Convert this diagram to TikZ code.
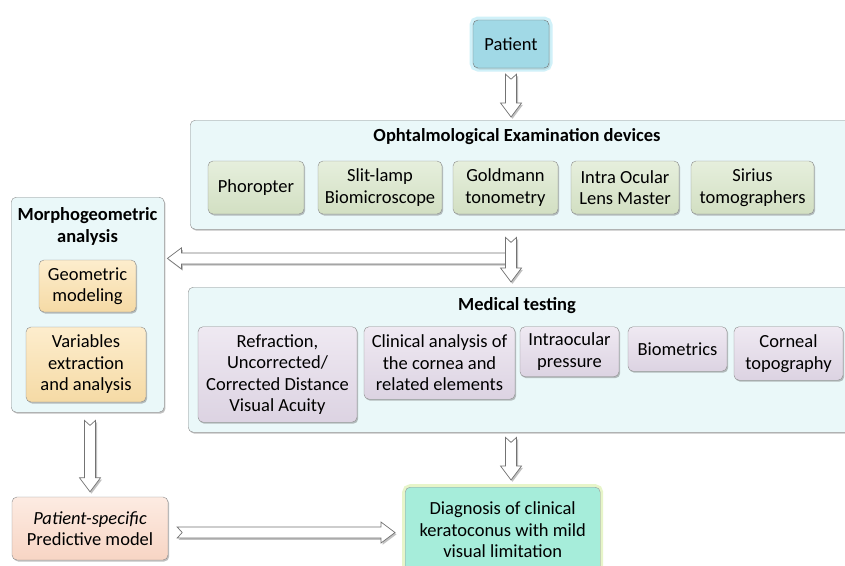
\documentclass[tikz,border=0pt]{standalone}
\usepackage{fontspec}
\setmainfont{Carlito}
\usepackage{tikz}
\usetikzlibrary{calc}
\usetikzlibrary{shadows}
\usetikzlibrary{positioning}
\definecolor{panelfill}{RGB}{234, 248, 249}
\definecolor{panelline}{RGB}{140, 140, 140}
\definecolor{patientblue}{RGB}{161, 217, 230}
\definecolor{patientglow}{RGB}{178, 232, 245}
\definecolor{devtop}{RGB}{230, 239, 221}
\definecolor{devbottom}{RGB}{210, 223, 194}
\definecolor{testtop}{RGB}{239, 233, 242}
\definecolor{testbottom}{RGB}{220, 211, 226}
\definecolor{morphtop}{RGB}{253, 237, 205}
\definecolor{morphbottom}{RGB}{245, 218, 165}
\definecolor{predtop}{RGB}{253, 235, 226}
\definecolor{predbottom}{RGB}{247, 213, 196}
\definecolor{diagfill}{RGB}{166, 237, 218}
\definecolor{diagglow}{RGB}{226, 243, 188}
\definecolor{arrowline}{RGB}{115, 115, 115}

\newcommand{\fatarrow}[2]{%
  \path[hollowarrow] ($(#1)!5.5pt!90:(#2)$) -- ($(#2)!14pt!(#1)!5.5pt!90:(#2)$)
    -- ($(#2)!14pt!(#1)!10.5pt!90:(#2)$) -- (#2) -- ($(#2)!14pt!(#1)!10.5pt!-90:(#2)$)
    -- ($(#2)!14pt!(#1)!5.5pt!-90:(#2)$) -- ($(#1)!5.5pt!-90:(#2)$) -- ($(#1)!5pt!(#2)$) -- cycle;}

\tikzset{
  every node/.style = {font=\fontsize{18.5}{21.5}\selectfont, align=center, inner sep=2pt},
  boxshadow/.style  = {drop shadow={shadow xshift=1.2pt, shadow yshift=-1.5pt, opacity=.35, fill=black!70}},
  panel/.style      = {draw=panelline, fill=panelfill, rounded corners=5pt, boxshadow},
  paneltitle/.style = {font=\fontsize{18.5}{21.5}\selectfont\bfseries},
  devbox/.style     = {draw=black!45, top color=devtop, bottom color=devbottom, rounded corners=5pt, boxshadow},
  testbox/.style    = {draw=black!45, top color=testtop, bottom color=testbottom, rounded corners=5pt, boxshadow, anchor=north},
  morphbox/.style   = {draw=black!45, top color=morphtop, bottom color=morphbottom, rounded corners=5pt, boxshadow},
  hollowarrow/.style= {fill=white, draw=arrowline, line width=0.7pt, line join=miter,
                       drop shadow={shadow xshift=1.5pt, shadow yshift=-1.8pt, opacity=.4, fill=black!60}}
}

\begin{document}
\begin{tikzpicture}[x=1pt, y=-1pt]
  \useasboundingbox[fill=white] (0,0) rectangle (845,565);

  \node[draw=black!55, fill=patientblue, rounded corners=5pt, boxshadow,
        preaction={draw=patientglow, line width=7pt, opacity=.6},
        minimum width=76pt, minimum height=48pt]                          (patient)    at (511,44)   {Patient};

  \node[panel, minimum width=660pt, minimum height=109pt, anchor=north west] (ophth)   at (190,120)  {};
  \node[paneltitle]                                                       (ophtitle)   at (517,137)  {Ophtalmological Examination devices};
  \node[devbox, minimum width=96pt,  minimum height=53pt]                 (phoropter)  at (256,187.5)  {Phoropter};
  \node[devbox, minimum width=124pt, minimum height=53pt]                 (slitlamp)   at (380,187.5)  {Slit-lamp\\Biomicroscope};
  \node[devbox, minimum width=105pt, minimum height=53pt]                 (goldmann)   at (505.5,187.5){Goldmann\\tonometry};
  \node[devbox, minimum width=108pt, minimum height=53pt]                 (iolmaster)  at (625,187.5)  {Intra Ocular\\Lens Master};
  \node[devbox, minimum width=123pt, minimum height=53pt]                 (sirius)     at (752.5,187.5){Sirius\\tomographers};

  \node[panel, minimum width=153pt, minimum height=215pt, anchor=north west] (morpho)  at (11,197)   {};
  \node[paneltitle]                                                       (morphtitle) at (87.5,226.5) {Morphogeometric\\analysis};
  \node[morphbox, minimum width=97pt,  minimum height=52pt]               (geometric)  at (87.5,286) {Geometric\\modeling};
  \node[morphbox, minimum width=120pt, minimum height=75pt]               (variables)  at (86,364.5) {Variables\\extraction\\and analysis};

  \node[panel, minimum width=662pt, minimum height=145pt, anchor=north west] (medical) at (188,287)  {};
  \node[paneltitle]                                                       (medtitle)   at (517,306)  {Medical testing};
  \node[testbox, minimum width=159pt, minimum height=95.5pt]              (refraction) at (277.5,326.5) {Refraction,\\Uncorrected/\\Corrected Distance\\Visual Acuity};
  \node[testbox, minimum width=151pt, minimum height=72.5pt]              (clinical)   at (439.5,326.5) {Clinical analysis of\\the cornea and\\related elements};
  \node[testbox, minimum width=99pt,  minimum height=50pt]                (pressure)   at (569.5,326.5) {Intraocular\\pressure};
  \node[testbox, minimum width=99pt,  minimum height=44.5pt]              (biometrics) at (677.5,326.5) {Biometrics};
  \node[testbox, minimum width=109pt, minimum height=53.5pt]              (topography) at (788.5,326.5) {Corneal\\topography};

  \node[draw=black!45, top color=predtop, bottom color=predbottom, rounded corners=5pt, boxshadow,
        minimum width=156pt, minimum height=63pt]                         (predictive) at (90,528.5) {\textit{Patient-specific}\\Predictive model};
  \node[draw=black!40, fill=diagfill, rounded corners=5pt,
        preaction={draw=diagglow, line width=6pt, opacity=.8},
        minimum width=195pt, minimum height=85pt, anchor=north west]      (diagnosis)  at (405,487)  {Diagnosis of clinical\\keratoconus with mild\\visual limitation};

  \coordinate (a1s)   at ($(patient.south)+(0,6)$);
  \coordinate (a1e)   at ($(patient.south |- ophth.north)+(0,-3)$);
  \coordinate (a2s)   at ($(patient.south |- ophth.south)+(0,8)$);
  \coordinate (a2e)   at ($(patient.south |- medical.north)+(0,-5)$);
  \coordinate (split) at ($(patient.south |- ophth.south)+(0,29)$);
  \coordinate (a3e)   at ($(morpho.east |- split)+(3,0)$);
  \coordinate (a4s)   at ($(patient.south |- medical.south)+(0,5)$);
  \coordinate (a4e)   at ($(patient.south |- diagnosis.north)+(0,-7)$);
  \coordinate (a5s)   at ($(predictive.north |- morpho.south)+(0,8)$);
  \coordinate (a5e)   at ($(predictive.north)+(0,-5)$);
  \coordinate (a6s)   at ($(predictive.east)+(9,4)$);
  \coordinate (a6e)   at ($(diagnosis.west |- a6s)+(-10,0)$);

  \fatarrow{a1s}{a1e}
  \fatarrow{split}{a3e}
  \fatarrow{a2s}{a2e}
  \fatarrow{a4s}{a4e}
  \fatarrow{a5s}{a5e}
  \fatarrow{a6s}{a6e}
\end{tikzpicture}
\end{document}
